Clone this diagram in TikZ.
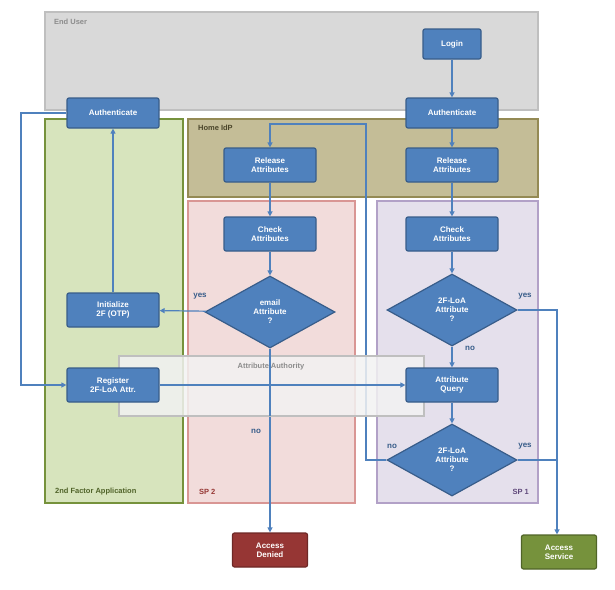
\documentclass[tikz,border=0pt]{standalone}
\usepackage{fontspec}
\setmainfont{Liberation Sans}
\usetikzlibrary{shapes.geometric,arrows.meta}
\definecolor{boxblue}{RGB}{79,129,189}
\definecolor{boxedge}{RGB}{56,93,138}
\tikzset{every picture/.style={line width=0.75pt}}
\tikzset{
  rlabel/.style={font=\bfseries\fontsize{7.5}{8}\selectfont,inner sep=0.75pt},
  task/.style={draw=boxedge,fill=boxblue,text=white,rounded corners=2pt,
    minimum width=92pt,minimum height=34pt,align=center,
    font=\bfseries\fontsize{8}{9}\selectfont,line width=1.2pt},
  test/.style={diamond,draw=boxedge,fill=boxblue,text=white,aspect=1.8,
    minimum width=130pt,minimum height=72pt,inner sep=0pt,align=center,
    font=\bfseries\fontsize{8}{9}\selectfont,line width=1.2pt},
  flow/.style={draw=boxblue,line width=1.2pt,-{Triangle[length=5pt,width=5pt]}},
  ans/.style={text=boxedge,font=\bfseries\fontsize{8}{9}\selectfont,inner sep=0.75pt}
}
\begin{document}
\begin{tikzpicture}[x=1pt,y=1pt,yscale=-1]
\useasboundingbox (0,0) rectangle (615,589);

% regions
\draw [fill={rgb,255:red,217;green,217;blue,217},draw={rgb,255:red,191;green,191;blue,191},line width=1.5pt] (45,12) rectangle (538,110);
\draw [fill={rgb,255:red,196;green,189;blue,151},draw={rgb,255:red,148;green,138;blue,84},line width=1.5pt] (188,119) rectangle (538,197);
\draw [fill={rgb,255:red,215;green,228;blue,189},draw={rgb,255:red,118;green,146;blue,60},line width=1.5pt] (45,119) rectangle (183,503);
\draw [fill={rgb,255:red,242;green,220;blue,219},draw={rgb,255:red,217;green,150;blue,148},line width=1.5pt] (188,201) rectangle (355,503);
\draw [fill={rgb,255:red,229;green,224;blue,236},draw={rgb,255:red,178;green,161;blue,199},line width=1.5pt] (377,201) rectangle (538,503);

\node [rlabel,text={rgb,255:red,140;green,140;blue,140},anchor=west] at (53,22) {End User};
\node [rlabel,text={rgb,255:red,74;green,69;blue,42},anchor=west] at (197,128) {Home IdP};
\node [rlabel,text={rgb,255:red,79;green,98;blue,40},anchor=west] at (54,492) {2nd Factor Application};
\node [rlabel,text={rgb,255:red,150;green,55;blue,52},anchor=west] at (198,492) {SP 2};
\node [rlabel,text={rgb,255:red,96;green,73;blue,123},anchor=east] at (530,492) {SP 1};

% lines behind the attribute authority box
\node [task,minimum width=58pt,minimum height=30pt] (login) at (452,44) {Login};
\node [task,minimum height=30pt] (authR) at (452,113) {Authenticate};
\node [task,minimum height=30pt] (authL) at (113,113) {Authenticate};
\node [task] (relL) at (270,165) {Release\\Attributes};
\node [task] (relR) at (452,165) {Release\\Attributes};
\node [task] (chkL) at (270,234) {Check\\Attributes};
\node [task] (chkR) at (452,234) {Check\\Attributes};
\node [test] (email) at (270,312) {email\\Attribute\\?};
\node [test] (loaA) at (452,310) {2F-LoA\\Attribute\\?};
\node [task] (init) at (113,310) {Initialize\\2F (OTP)};
\node [test] (loaB) at (452,460) {2F-LoA\\Attribute\\?};
\node [task,minimum width=75pt,fill={rgb,255:red,150;green,54;blue,52},draw={rgb,255:red,110;green,40;blue,38}] (denied) at (270,550) {Access\\Denied};
\node [task,minimum width=75pt,fill={rgb,255:red,118;green,146;blue,60},draw={rgb,255:red,80;green,100;blue,40}] (service) at (559,552) {Access\\Service};
\coordinate (sv) at (557,310);

\draw [flow] (email.south) -- (denied);
\draw [flow] (loaB.west) -- (366,460) -- (366,124) -- (270,124) -- (relL);
\draw [flow] (loaA.east) -- (sv) -- (service.north -| sv);
\draw [boxblue,line width=1.2pt] (loaB.east) -- (loaB.east -| sv);

% attribute authority
\draw [fill={rgb,255:red,242;green,242;blue,242},fill opacity=0.85,draw={rgb,255:red,191;green,191;blue,191},line width=1.5pt] (119,356) rectangle (424,416);
\node [rlabel,text={rgb,255:red,140;green,140;blue,140}] at (271,367) {Attribute Authority};

\node [task] (reg) at (113,385) {Register\\2F-LoA Attr.};
\node [task] (query) at (452,385) {Attribute\\Query};
\draw [boxblue,line width=1.2pt] (email.south) -- (270,416);

\draw [flow] (login) -- (authR);
\draw [flow] (authR) -- (relR);
\draw [flow] (relR) -- (chkR);
\draw [flow] (chkR) -- (loaA);
\draw [flow] (loaA) -- (query);
\draw [flow] (query) -- (loaB);
\draw [flow] (relL) -- (chkL);
\draw [flow] (chkL) -- (email);
\draw [flow] (email) -- (init);
\draw [flow] (init) -- (authL);
\draw [flow] (authL.west) -- (21,113) -- (21,385) -- (reg);
\draw [flow] (reg) -- (query);

% answers
\node [ans] at (525,296) {yes};
\node [ans] at (525,446) {yes};
\node [ans] at (470,348) {no};
\node [ans] at (392,446) {no};
\node [ans] at (200,296) {yes};
\node [ans] at (256,431) {no};
\end{tikzpicture}
\end{document}
